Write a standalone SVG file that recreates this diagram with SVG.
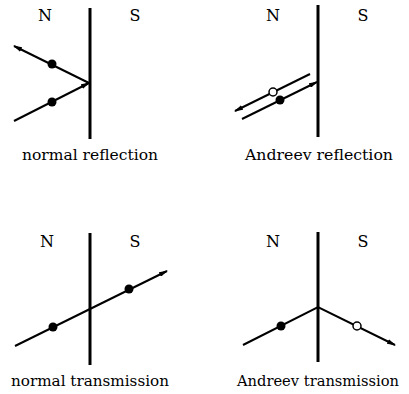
<svg xmlns="http://www.w3.org/2000/svg" width="409" height="394" viewBox="0 0 409 394">
<defs>
<marker id="arr" viewBox="0 0 9 5" refX="8" refY="2.5" markerWidth="9" markerHeight="5" markerUnits="userSpaceOnUse" orient="auto">
<path d="M0,0 L9,2.5 L0,5 Z" fill="#000"/>
</marker>
</defs>
<style>
.wall{stroke:#000;stroke-width:3;fill:none}
.ray{stroke:#000;stroke-width:2;fill:none}
.el{fill:#000}
.ho{fill:#fff;stroke:#000;stroke-width:1.5}
text{font-family:'DejaVu Serif','Liberation Serif',serif;text-anchor:middle;fill:#000}
.lbl{font-size:16px}
.cap{font-size:14.5px}
</style>
<rect width="409" height="394" fill="#fff"/>

<g id="normal-reflection">
<line class="wall" x1="90" y1="8" x2="90" y2="139"/>
<text class="lbl" x="45" y="21">N</text>
<text class="lbl" x="135" y="21">S</text>
<text class="cap" x="90" y="160" textLength="136" lengthAdjust="spacingAndGlyphs">normal reflection</text>
</g>
<g id="andreev-reflection">
<line class="wall" x1="318" y1="5" x2="318" y2="137"/>
<text class="lbl" x="273" y="21">N</text>
<text class="lbl" x="363" y="21">S</text>
<text class="cap" x="319" y="160" textLength="148" lengthAdjust="spacingAndGlyphs">Andreev reflection</text>
</g>
<g id="normal-transmission">
<line class="wall" x1="90" y1="233" x2="90" y2="365"/>
<text class="lbl" x="47" y="247">N</text>
<text class="lbl" x="135" y="247">S</text>
<text class="cap" x="90" y="386" textLength="158" lengthAdjust="spacingAndGlyphs">normal transmission</text>
</g>
<g id="andreev-transmission">
<line class="wall" x1="318" y1="232" x2="318" y2="362"/>
<text class="lbl" x="273" y="247">N</text>
<text class="lbl" x="363" y="247">S</text>
<text class="cap" x="318" y="386" textLength="162" lengthAdjust="spacingAndGlyphs">Andreev transmission</text>
</g>

<g id="connectors">
<line class="ray" x1="89" y1="83" x2="14" y2="46" marker-end="url(#arr)"/>
<line class="ray" x1="14" y1="121" x2="89" y2="83" marker-end="url(#arr)"/>
<circle class="el" cx="52" cy="64" r="4.5"/>
<circle class="el" cx="52" cy="102" r="4.5"/>

<line class="ray" x1="310" y1="74" x2="235" y2="111" marker-end="url(#arr)"/>
<line class="ray" x1="242" y1="119" x2="317" y2="82" marker-end="url(#arr)"/>
<circle class="el" cx="280" cy="100" r="4.5"/>
<circle class="ho" cx="273" cy="92" r="4"/>

<line class="ray" x1="15" y1="346" x2="167" y2="271" marker-end="url(#arr)"/>
<circle class="el" cx="53" cy="327" r="4.5"/>
<circle class="el" cx="129" cy="289" r="4.5"/>

<polyline class="ray" points="243,345 318,307 395,345" marker-end="url(#arr)"/>
<circle class="el" cx="281" cy="326" r="4.5"/>
<circle class="ho" cx="357" cy="326" r="4"/>
</g>
</svg>
